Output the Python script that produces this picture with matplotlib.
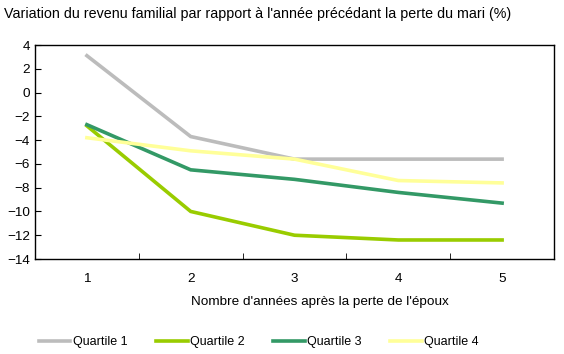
import matplotlib
matplotlib.use("Agg")
import matplotlib.pyplot as plt

# Data
years = [1, 2, 3, 4, 5]
quartile_1 = [3.1, -3.7, -5.6, -5.6, -5.6]
quartile_2 = [-2.8, -10.0, -12.0, -12.4, -12.4]
quartile_3 = [-2.7, -6.5, -7.3, -8.4, -9.3]
quartile_4 = [-3.8, -4.9, -5.6, -7.4, -7.6]

series = [
    ("Quartile 1", quartile_1, "#bcbcbc"),
    ("Quartile 2", quartile_2, "#99cc00"),
    ("Quartile 3", quartile_3, "#339966"),
    ("Quartile 4", quartile_4, "#ffff99"),
]

plt.rcParams["font.family"] = ["Liberation Sans", "DejaVu Sans"]

fig = plt.figure(figsize=(5.64, 3.54), dpi=100)
ax = fig.add_axes([35 / 564, 1 - 259 / 354, 519 / 564, 214 / 354])

for label, values, color in series:
    ax.plot(years, values, color=color, linewidth=2.6, label=label,
            solid_joinstyle="miter")

ax.set_xlim(0.5, 5.5)
ax.set_ylim(-14, 4)
ax.set_yticks(range(-14, 5, 2))
ax.set_xticks(years)
ax.set_xticklabels([str(y) for y in years], fontsize=9.7)
ax.set_xticks([1.5, 2.5, 3.5, 4.5], minor=True)
ax.tick_params(axis="x", which="major", length=0, pad=10)
ax.tick_params(axis="x", which="minor", length=4, direction="in")
ax.tick_params(axis="y", length=4, direction="in", labelsize=9.7)
for sp in ax.spines.values():
    sp.set_linewidth(1.0)

fig.text(4 / 564, 1 - 14 / 354,
         "Variation du revenu familial par rapport à l'année précédant la perte du mari (%)",
         fontsize=10.3, va="center", ha="left")
fig.text(320 / 564, 1 - 302 / 354, "Nombre d'années après la perte de l'époux",
         fontsize=9.7, va="center", ha="center")

fig.legend(loc="center", bbox_to_anchor=(259 / 564, 1 - 342 / 354), ncol=4, frameon=False,
           fontsize=9.0, handlelength=2.5, handletextpad=0.2, columnspacing=2.3)

fig.savefig("out.png", dpi=100)
